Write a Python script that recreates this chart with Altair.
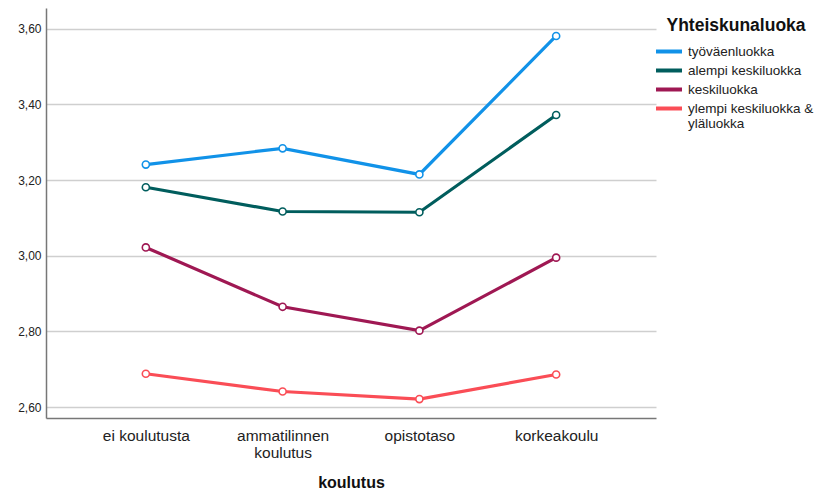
import altair as alt
import pandas as pd

categories = ["ei koulutusta", "ammatilinnen koulutus", "opistotaso", "korkeakoulu"]
series_names = ["työväenluokka", "alempi keskiluokka", "keskiluokka", "ylempi keskiluokka & yläluokka"]
tyovaen = [3.241, 3.284, 3.215, 3.581]
alempi = [3.181, 3.117, 3.115, 3.372]
keski = [3.022, 2.865, 2.802, 2.995]
ylempi = [2.688, 2.641, 2.621, 2.686]
colors = ["#1192e8", "#005d5d", "#9f1853", "#fa4d56"]
y_ticks = [2.6, 2.8, 3.0, 3.2, 3.4, 3.6]

rows = []
for name, vals in zip(series_names, [tyovaen, alempi, keski, ylempi]):
    for c, v in zip(categories, vals):
        rows.append({"koulutus": c, "luokka": name, "arvo": v})
df = pd.DataFrame(rows)

FONT = "Liberation Sans"

x = alt.X(
    "koulutus:N",
    sort=categories,
    scale=alt.Scale(type="point", padding=0.73),
    axis=alt.Axis(
        title="koulutus",
        labelExpr="datum.label == 'ammatilinnen koulutus' ? ['ammatilinnen', 'koulutus'] : datum.label",
        labelAngle=0,
        labelFontSize=15.5,
        labelLineHeight=17,
        labelPadding=10,
        labelColor="#222222",
        ticks=False,
        titleFontSize=16,
        titleFontWeight="bold",
        titleBaseline="alphabetic",
        titleY=69,
        titleColor="#111111",
        domainColor="#777777",
        domainWidth=1.5,
        grid=False,
    ),
)
y = alt.Y(
    "arvo:Q",
    scale=alt.Scale(domain=[2.571, 3.655], nice=False, zero=False),
    axis=alt.Axis(
        title=None,
        values=y_ticks,
        labelExpr="replace(format(datum.value, '.2f'), '.', ',')",
        labelFontSize=12,
        labelColor="#222222",
        labelPadding=5,
        ticks=False,
        domainColor="#777777",
        domainWidth=1.5,
        grid=True,
        gridColor="#cfcfcf",
        gridWidth=1.5,
    ),
)

color_scale = alt.Scale(domain=series_names, range=colors)

lines = alt.Chart(df).mark_line(strokeWidth=3.2).encode(
    x=x,
    y=y,
    color=alt.Color(
        "luokka:N",
        scale=color_scale,
        sort=series_names,
        legend=alt.Legend(
            title="Yhteiskunaluoka",
            orient="none",
            legendX=612,
            legendY=9,
            titleFontSize=17.5,
            titleFontWeight="bold",
            titleColor="#111111",
            titleAnchor="middle",
            titlePadding=6,
            labelFontSize=13.5,
            labelColor="#222222",
            labelOffset=8,
            labelExpr="datum.label == 'ylempi keskiluokka & yläluokka' ? ['ylempi keskiluokka &', 'yläluokka'] : datum.label",
            symbolType="M-1.5,0L1.5,0",
            symbolSize=300,
            symbolStrokeWidth=4,
            rowPadding=0,
        ),
    ),
)

points = alt.Chart(df).mark_point(filled=True, size=50, strokeWidth=1.6, fill="white", opacity=1).encode(
    x=x,
    y=y,
    stroke=alt.Stroke("luokka:N", scale=color_scale, legend=None),
)

chart = (
    alt.layer(lines, points)
    .properties(
        width=610,
        height=410,
        autosize=alt.AutoSizeParams(type="none"),
        padding={"left": 38, "top": 0, "right": 159, "bottom": 72},
    )
    .configure(font=FONT)
    .configure_view(stroke=None)
)

chart.save("out.html", embed_options={"renderer": "svg", "actions": False})
